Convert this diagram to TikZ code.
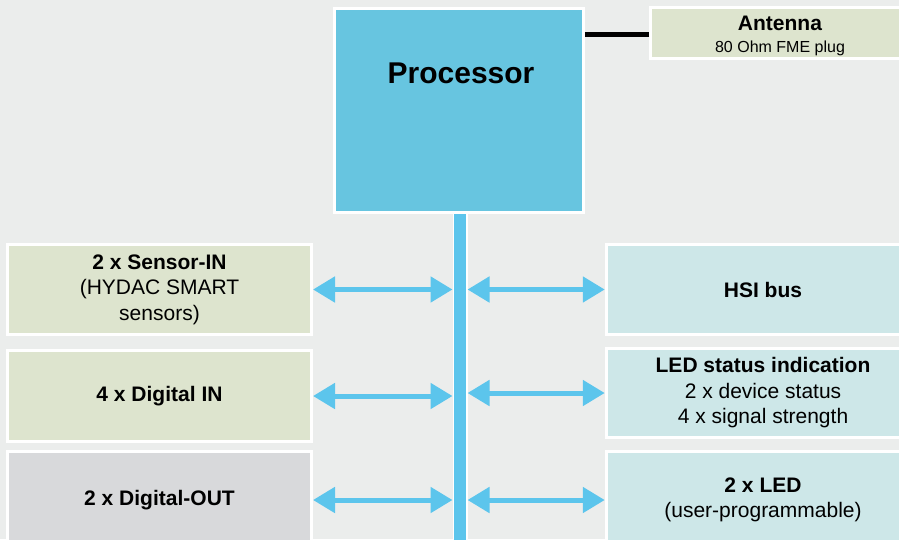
\documentclass[tikz,border=0pt]{standalone}
\usepackage{fontspec}
\setmainfont{Liberation Sans}
\usetikzlibrary{positioning}
\usetikzlibrary{arrows.meta}
\definecolor{bgcol}{HTML}{EBEDEC}
\definecolor{procblue}{HTML}{67C5E0}
\definecolor{busblue}{HTML}{5CC5EC}
\definecolor{ingreen}{HTML}{DDE4CE}
\definecolor{outgray}{HTML}{D8D9DB}
\definecolor{ledcyan}{HTML}{CDE7E8}
\tikzset{
  blockbox/.style={draw=white, line width=3pt, inner sep=0pt, align=center,
    font=\fontsize{21}{25.5}\selectfont},
  biarrow/.style={line width=5pt, draw=busblue,
    {Triangle[length=22pt,width=25pt,fill=busblue]}-{Triangle[length=22pt,width=25pt,fill=busblue]}}
}
\begin{document}
\begin{tikzpicture}[x=1pt,y=-1pt]
  \fill[bgcol] (0,0) rectangle (899,539);
  \useasboundingbox (0,0) rectangle (899,539);
  \node[blockbox, fill=procblue, minimum width=249pt, minimum height=204pt] (proc) at (459,110.5) {}; %processor
  \node[anchor=base, font=\fontsize{30}{36}\selectfont\bfseries] (proclabel) at (461,83) {Processor};
  \node[blockbox, fill=ingreen, minimum width=259pt, minimum height=51pt] (ant) at (780,33)
       {\rule{0pt}{20pt}\textbf{Antenna}\\[-3.5pt]{\fontsize{16}{19}\selectfont 80 Ohm FME plug}};
  \draw[line width=4.5pt, black] ([yshift=-1.5pt]ant.west) -- ([yshift=-1.5pt]ant.west -| proc.east);   %antenna line
  \node[draw=white, line width=1.5pt, fill=busblue, minimum width=13.5pt, minimum height=335pt, inner sep=0pt] (bus) at (460,381) {}; %bus
  % left side
  \node[blockbox, fill=ingreen, minimum width=304pt, minimum height=90pt] (sensin) at (159.5,289.5)
       {\textbf{2 x Sensor-IN}\\(HYDAC SMART\\sensors)};
  \node[blockbox, fill=ingreen, minimum width=304pt, minimum height=91pt] (digin) at (159.5,396)
       {\raisebox{4pt}{\textbf{4 x Digital IN}}};
  \node[blockbox, fill=outgray, minimum width=304pt, minimum height=97pt] (digout) at (159.5,500)
       {\raisebox{3pt}{\textbf{2 x Digital-OUT}}};
  % right side
  \node[blockbox, fill=ledcyan, minimum width=313.5pt, minimum height=90pt] (hsi) at (763,289.5)
       {\textbf{HSI bus}};
  \node[blockbox, fill=ledcyan, minimum width=313.5pt, minimum height=89pt] (ledstat) at (763,393)
       {\textbf{LED status indication}\\2 x device status\\4 x signal strength};
  \node[blockbox, fill=ledcyan, minimum width=313.5pt, minimum height=97pt] (leduser) at (763,500)
       {\textbf{2 x LED}\\(user-programmable)};
  % arrows to the bus
  \foreach \blk in {sensin,digin,digout}
    \draw[biarrow] (\blk.east) -- (\blk.east -| bus.west);
  \foreach \blk in {hsi,ledstat,leduser}
    \draw[biarrow] (\blk.west -| bus.east) -- (\blk.west);
\end{tikzpicture}
\end{document}
